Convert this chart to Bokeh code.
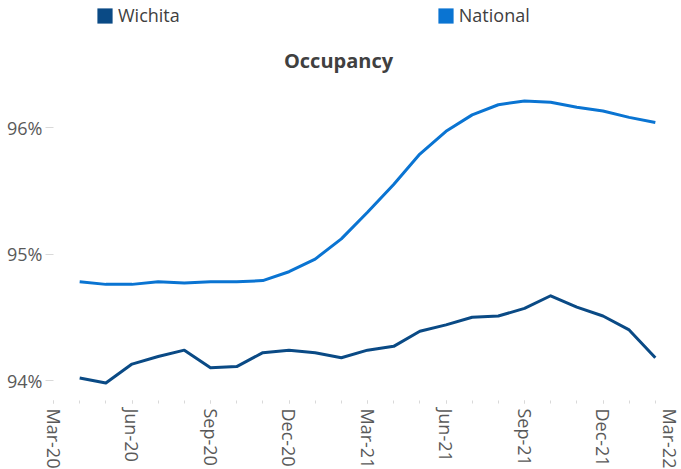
from bokeh.plotting import figure
from bokeh.models import FixedTicker, Legend, LegendItem, Label
from bokeh.embed import file_html
from bokeh.resources import INLINE

# ---- data ----
all_months = ["Mar-20", "Apr-20", "May-20", "Jun-20", "Jul-20", "Aug-20", "Sep-20",
              "Oct-20", "Nov-20", "Dec-20", "Jan-21", "Feb-21", "Mar-21", "Apr-21",
              "May-21", "Jun-21", "Jul-21", "Aug-21", "Sep-21", "Oct-21", "Nov-21",
              "Dec-21", "Jan-22", "Feb-22", "Mar-22"]
data_months = all_months[1:24]
wichita = [94.02, 93.98, 94.13, 94.19, 94.24, 94.10, 94.11, 94.22, 94.24, 94.22,
           94.18, 94.24, 94.27, 94.39, 94.44, 94.50, 94.51, 94.57, 94.67, 94.58,
           94.51, 94.40, 94.18]
national = [94.78, 94.76, 94.76, 94.78, 94.77, 94.78, 94.78, 94.79, 94.86, 94.96,
            95.12, 95.33, 95.55, 95.79, 95.97, 96.10, 96.18, 96.21, 96.20, 96.16,
            96.13, 96.08, 96.04]
y_ticks = [94, 95, 96]
y_tick_labels = ["94%", "95%", "96%"]
series_names = ["Wichita", "National"]
title_text = "Occupancy"

# ---- styles ----
FONT = "Open Sans"
C_WICHITA = "#0A4A85"
C_NATIONAL = "#0A74D2"
TICK_GRAY = "#D9D9D9"
LABEL_GRAY = "#595959"
NAN = float("nan")

x = [all_months.index(m) for m in data_months]
major_idx = list(range(0, len(all_months), 3))

p = figure(frame_width=628, frame_height=400,
           x_range=(0, 24), y_range=(93.842, 97.004),
           output_backend="svg", toolbar_location=None,
           min_border_left=53, min_border_right=0, min_border_top=0, min_border_bottom=0)
p.outline_line_color = None
p.grid.visible = False
p.background_fill_color = "white"
p.border_fill_color = "white"

p.line(x, wichita, line_color=C_WICHITA, line_width=3, line_join="round")
p.line(x, national, line_color=C_NATIONAL, line_width=3, line_join="round")

# x axis
xa = p.xaxis[0]
xa.ticker = FixedTicker(ticks=major_idx, minor_ticks=list(range(len(all_months))))
xa.major_label_overrides = {i: all_months[i] for i in major_idx}
xa.major_label_orientation = "vertical"
xa.axis_line_color = None
xa.major_tick_line_color = TICK_GRAY
xa.minor_tick_line_color = TICK_GRAY
xa.major_tick_in = 0
xa.major_tick_out = 3
xa.minor_tick_in = 0
xa.minor_tick_out = 3
xa.major_label_standoff = 5
xa.major_label_text_font = FONT
xa.major_label_text_font_size = "18px"
xa.major_label_text_color = LABEL_GRAY

# y axis
ya = p.yaxis[0]
ya.ticker = FixedTicker(ticks=y_ticks)
ya.major_label_overrides = {t: l for t, l in zip(y_ticks, y_tick_labels)}
ya.axis_line_color = None
ya.major_tick_line_color = TICK_GRAY
ya.minor_tick_line_color = None
ya.major_tick_in = 0
ya.major_tick_out = 8
ya.major_label_standoff = 3
ya.major_label_text_font = FONT
ya.major_label_text_font_size = "18px"
ya.major_label_text_color = LABEL_GRAY

# legend (square swatches, proxy renderers with no visible data)
sq1 = p.quad(left=[NAN], right=[NAN], top=[NAN], bottom=[NAN],
             fill_color=C_WICHITA, line_color=None)
sq2 = p.quad(left=[NAN], right=[NAN], top=[NAN], bottom=[NAN],
             fill_color=C_NATIONAL, line_color=None)
legend = Legend(items=[LegendItem(label=series_names[0], renderers=[sq1]),
                       LegendItem(label=series_names[1], renderers=[sq2])],
                orientation="horizontal", location=(42, 373),
                spacing=256, padding=0, margin=0,
                glyph_width=19, glyph_height=19, label_standoff=4,
                label_text_font=FONT, label_text_font_size="18px",
                label_text_color="#404040",
                border_line_color=None, background_fill_alpha=0)
p.add_layout(legend)

title = Label(x=285, y=340, x_units="screen", y_units="screen", text=title_text,
              text_align="center", text_baseline="middle",
              text_font=FONT, text_font_style="bold", text_font_size="20px",
              text_color="#404040")
p.add_layout(title)

open("out.html", "w").write(file_html(p, INLINE))
